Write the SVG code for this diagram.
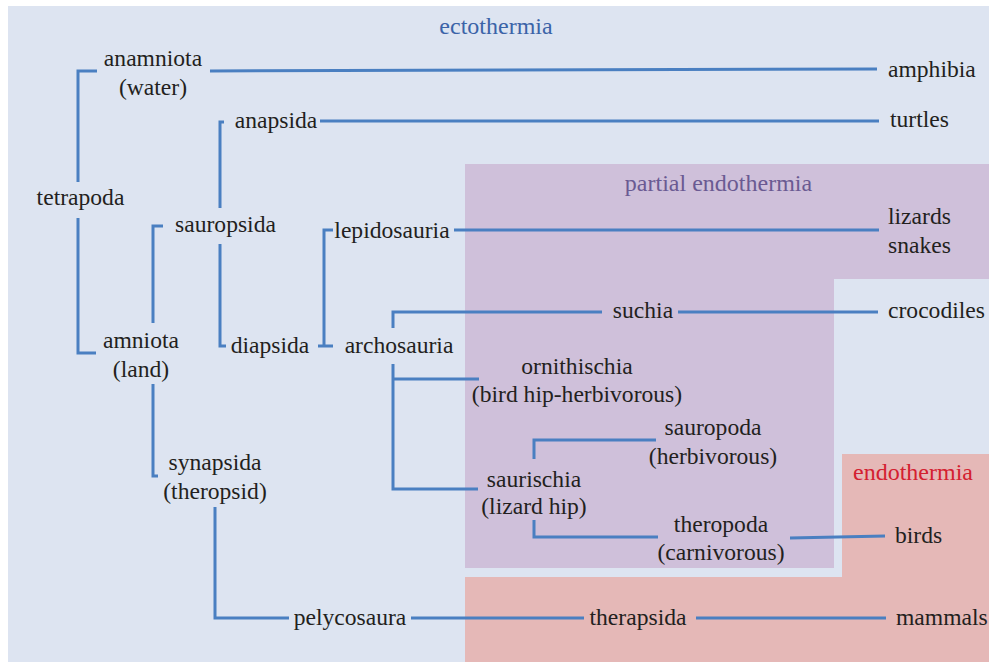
<svg xmlns="http://www.w3.org/2000/svg" width="989" height="662" viewBox="0 0 989 662" font-family="'Liberation Serif', 'Times New Roman', serif">
<style>
text{font-family:'Liberation Serif','Times New Roman',serif;font-size:23.6px;fill:#231f20}
.c{text-anchor:middle}
.zone{font-size:24px}
.ln{fill:none;stroke:#4a7fc1;stroke-width:3}
</style>
<g id="regions">
<rect x="8" y="6" width="981" height="656" fill="#dde4f1"/>
<path d="M465 164H989V279H834V568H465Z" fill="#cfc0da"/>
<path d="M842 454H989V662H465V577H842Z" fill="#e5b8b7"/>
<text class="c zone" x="496" y="34" style="fill:#3b63a8">ectothermia</text>
<text class="c zone" x="718.5" y="191" style="fill:#6a5a92">partial endothermia</text>
<text class="c zone" x="913" y="480" style="fill:#d42030">endothermia</text>
</g>
<g id="connectors" class="ln">
<path d="M97 71H78V182M78 218V353H96"/>
<path d="M210 71L877 69"/>
<path d="M224 122H220V208M220 244V346H226"/>
<path d="M320 121H879"/>
<path d="M163 226H153V323M153 384V476H158"/>
<path d="M215 507V618H289"/>
<path d="M411 618H584"/>
<path d="M696 618H886"/>
<path d="M333 230H324V346M318 346H333"/>
<path d="M454 230H879"/>
<path d="M393 328V312H602"/>
<path d="M678 312H878"/>
<path d="M393 364V489H478M393 379H479"/>
<path d="M534 459V440H656M534 520V537H658"/>
<path d="M790 538L885 536"/>
</g>
<g id="tetrapoda"><text class="c" x="80.5" y="205">tetrapoda</text></g>
<g id="anamniota"><text class="c" x="153" y="66">anamniota</text><text class="c" x="153" y="95">(water)</text></g>
<g id="amphibia"><text x="888" y="77">amphibia</text></g>
<g id="anapsida"><text class="c" x="276" y="128">anapsida</text></g>
<g id="turtles"><text x="890" y="127">turtles</text></g>
<g id="sauropsida"><text class="c" x="225.5" y="232">sauropsida</text></g>
<g id="amniota"><text class="c" x="141" y="348">amniota</text><text class="c" x="141" y="377">(land)</text></g>
<g id="diapsida"><text class="c" x="270" y="353">diapsida</text></g>
<g id="lepidosauria"><text class="c" x="392" y="238">lepidosauria</text></g>
<g id="lizards"><text x="888" y="224">lizards</text><text x="888" y="253">snakes</text></g>
<g id="archosauria"><text class="c" x="399" y="353">archosauria</text></g>
<g id="suchia"><text class="c" x="643" y="318">suchia</text></g>
<g id="crocodiles"><text x="888" y="318">crocodiles</text></g>
<g id="ornithischia"><text class="c" x="577" y="374">ornithischia</text><text class="c" x="577" y="402">(bird hip-herbivorous)</text></g>
<g id="sauropoda"><text class="c" x="713" y="435">sauropoda</text><text class="c" x="713" y="464">(herbivorous)</text></g>
<g id="saurischia"><text class="c" x="534" y="487">saurischia</text><text class="c" x="534" y="514">(lizard hip)</text></g>
<g id="theropoda"><text class="c" x="721" y="532">theropoda</text><text class="c" x="721" y="560">(carnivorous)</text></g>
<g id="birds"><text x="895" y="543">birds</text></g>
<g id="synapsida"><text class="c" x="215" y="470">synapsida</text><text class="c" x="215" y="499">(theropsid)</text></g>
<g id="pelycosaura"><text class="c" x="350" y="625">pelycosaura</text></g>
<g id="therapsida"><text class="c" x="638" y="625">therapsida</text></g>
<g id="mammals"><text x="896" y="625">mammals</text></g>
</svg>
